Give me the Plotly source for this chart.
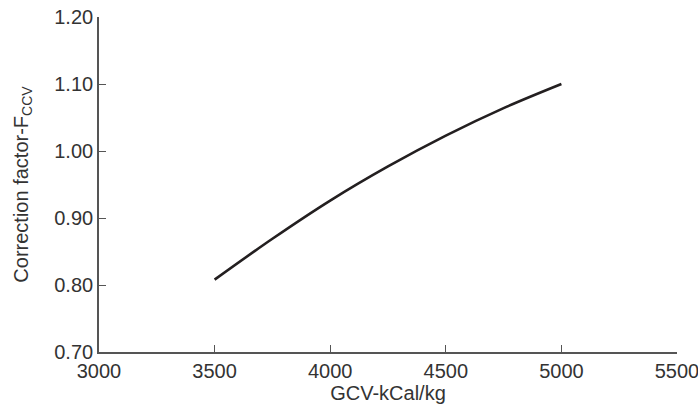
import plotly.graph_objects as go

# GCV (kCal/kg) vs correction factor F_CCV
gcv = [3500, 3750, 4000, 4250, 4500, 4750, 5000]
f_ccv = [0.808, 0.869, 0.926, 0.977, 1.023, 1.064, 1.100]

x_ticks = [3000, 3500, 4000, 4500, 5000, 5500]
y_ticks = [0.70, 0.80, 0.90, 1.00, 1.10, 1.20]

font = dict(family="Liberation Sans, Arial", size=20, color="#333333")

fig = go.Figure(go.Scatter(
    x=gcv, y=f_ccv, mode="lines",
    line=dict(color="#231f20", width=2.6, shape="spline"),
    showlegend=False,
))

axis_style = dict(
    showline=True, linecolor="#555555", linewidth=1.6,
    ticks="inside", ticklen=7, tickwidth=1.3, tickcolor="#555555",
    showgrid=False, zeroline=False, automargin=False,
    ticklabeloverflow="allow", tickfont=font,
)

fig.update_xaxes(range=[3000, 5500], tickvals=x_ticks,
                 title=dict(text="GCV-kCal/kg", standoff=3, font=font),
                 **axis_style)
fig.update_yaxes(range=[0.70, 1.20], tickvals=y_ticks, tickformat=".2f",
                 title=dict(text="Correction factor-F<sub>CCV</sub>", standoff=20, font=font),
                 **axis_style)

fig.update_layout(
    width=698, height=412,
    margin=dict(l=99, r=21, t=17, b=60),
    plot_bgcolor="white", paper_bgcolor="white",
)

# drop the default 8px body margin so the figure fills the window
fig.write_html("out.html", config={"displayModeBar": False},
               post_script="document.body.style.margin = '0';")
